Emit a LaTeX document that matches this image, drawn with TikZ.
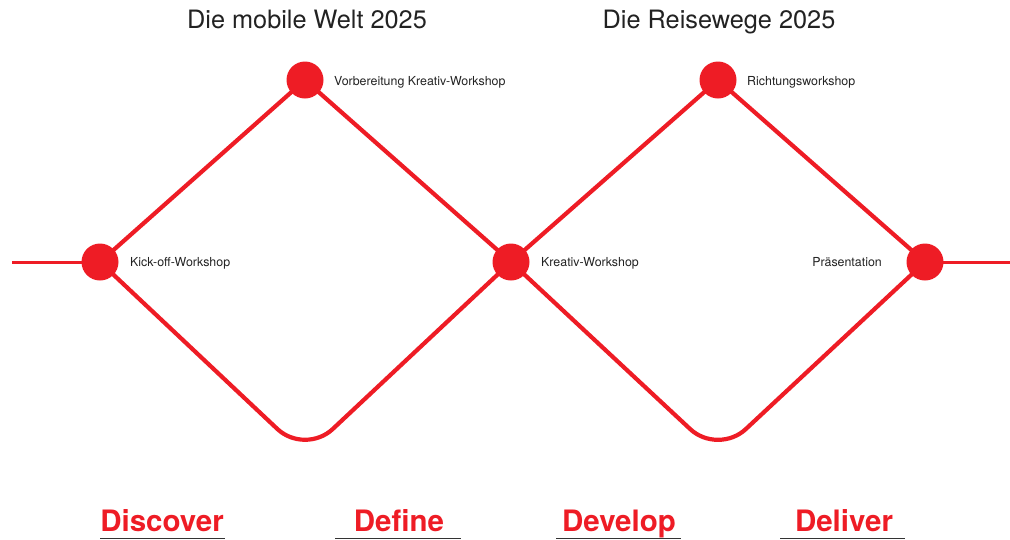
\documentclass[tikz,border=0pt]{standalone}
\usepackage{fontspec}
\setmainfont{TeX Gyre Heros}
\usetikzlibrary{backgrounds}
\definecolor{dred}{HTML}{EE1C25}
\definecolor{dtext}{HTML}{222222}
\definecolor{uline}{HTML}{333333}
\tikzset{
  milestone/.style={circle, fill=dred, inner sep=0pt, minimum size=37pt},
  flow/.style={draw=dred, line width=4.2pt},
  endline/.style={draw=dred, line width=3pt},
  small/.style={font=\fontsize{12.4}{14}\selectfont, text=dtext, inner sep=0pt},
  title/.style={font=\fontsize{25.3}{28}\selectfont, text=dtext, inner sep=0pt, anchor=base},
  phase/.style={font=\bfseries\fontsize{29.5}{32}\selectfont, text=dred, inner sep=0pt, anchor=base},
  underl/.style={draw=uline, line width=1pt}
}
\begin{document}
\begin{tikzpicture}[x=1pt, y=-1pt]
\useasboundingbox (0,0) rectangle (1010,539);
% milestones
\node[milestone] (kick) at (100,262) {};
\node[milestone] (vorb) at (305,80) {};
\node[milestone] (krea) at (511,262) {};
\node[milestone] (rich) at (718,80) {};
\node[milestone] (praes) at (925,262) {};
\coordinate (lend) at (12,262);
\coordinate (rend) at (1010,262);
\coordinate (low1) at (305,455);
\coordinate (low2) at (718,455);
\begin{scope}[on background layer]
  \draw[endline] (lend) -- (kick.center);
  \draw[endline] (praes.center) -- (rend);
  \draw[flow] (kick.center) -- (vorb.center) -- (krea.center) -- (rich.center) -- (praes.center);
  \draw[flow, rounded corners=38pt] (kick.center) -- (low1) -- (krea.center);
  \draw[flow, rounded corners=38pt] (krea.center) -- (low2) -- (praes.center);
\end{scope}
% labels
\node[small, anchor=base west] (lkick) at (130,266) {Kick-off-Workshop};
\node[small, anchor=base west] (lvorb) at (334,85) {Vorbereitung Kreativ-Workshop};
\node[small, anchor=base west] (lkrea) at (541,266) {Kreativ-Workshop};
\node[small, anchor=base west] (lrich) at (747,85) {Richtungsworkshop};
\node[small, anchor=base east] (lpraes) at (882,266) {Präsentation};
% titles
\node[title] (t1) at (307,28) {Die mobile Welt 2025};
\node[title] (t2) at (719,28) {Die Reisewege 2025};
% phases
\node[phase] (p1) at (162,531) {Discover};
\node[phase] (p2) at (399,531) {Define};
\node[phase] (p3) at (619,531) {Develop};
\node[phase] (p4) at (844,531) {Deliver};
\draw[underl] (100,538) -- (225,538);
\draw[underl] (335,538) -- (461,538);
\draw[underl] (556,538) -- (681,538);
\draw[underl] (780,538) -- (905,538);
\end{tikzpicture}
\end{document}
